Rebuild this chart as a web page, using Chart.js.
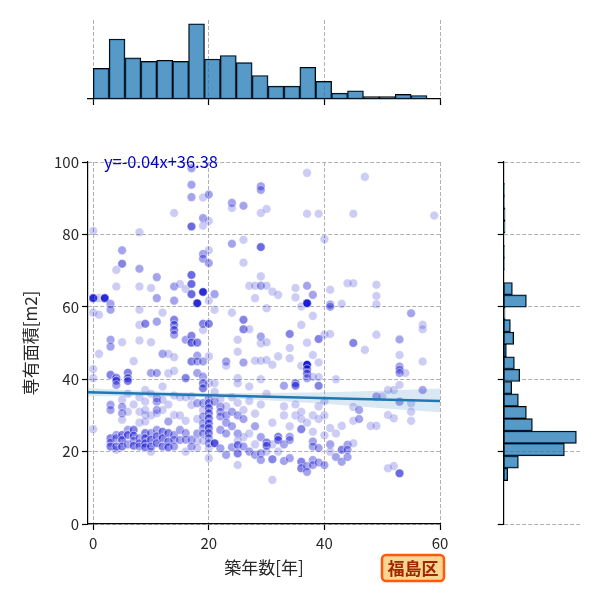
<!DOCTYPE html>
<html>
<head>
<meta charset="utf-8">
<script src="https://cdn.jsdelivr.net/npm/chart.js@4/dist/chart.umd.min.js"></script>
<style>
  html, body { margin: 0; padding: 0; background: #fff; }
  #wrap { position: relative; width: 600px; height: 600px; }
  #wrap canvas { position: absolute; left: 0; top: 0; }
</style>
</head>
<body>
<div id="wrap">
  <canvas id="main" width="600" height="600"></canvas>
  <canvas id="top" width="600" height="600"></canvas>
  <canvas id="side" width="600" height="600"></canvas>
</div>
<script>
// --- data ---
// one entry per marker position, listings = how many rooms sit on that spot
const ages = [
  0, 0, 0, 0, 0, 0,
  1, 1, 1,
  2,
  3, 3, 3, 3, 3, 3, 3, 3, 3, 3,
  4, 4, 4, 4, 4, 4, 4, 4, 4,
  5, 5, 5, 5, 5, 5, 5, 5, 5, 5,
  6, 6, 6, 6, 6, 6, 6, 6,
  7, 7, 7, 7, 7, 7,
  8, 8, 8, 8, 8, 8, 8, 8, 8, 8, 8, 8,
  9, 9, 9, 9, 9, 9, 9, 9, 9, 9,
  10, 10, 10, 10, 10, 10, 10, 10, 10,
  11, 11, 11, 11, 11, 11, 11, 11, 11, 11, 11,
  12, 12, 12, 12, 12, 12, 12, 12,
  13, 13, 13, 13, 13, 13, 13,
  14, 14, 14, 14, 14, 14, 14, 14, 14, 14, 14, 14, 14, 14,
  15, 15, 15, 15, 15,
  16, 16, 16, 16, 16, 16, 16, 16,
  17, 17, 17, 17, 17, 17, 17, 17, 17, 17, 17, 17, 17, 17,
  18, 18, 18, 18, 18, 18, 18, 18, 18, 18,
  19, 19, 19, 19, 19, 19, 19, 19, 19, 19, 19, 19, 19, 19, 19, 19, 19, 19, 19,
  20, 20, 20, 20, 20, 20, 20, 20, 20, 20, 20, 20, 20, 20, 20, 20, 20, 20, 20, 20,
  21, 21, 21, 21, 21, 21,
  22, 22, 22, 22, 22, 22,
  23, 23, 23, 23, 23, 23, 23,
  24, 24, 24, 24, 24, 24, 24, 24,
  25, 25, 25, 25, 25, 25, 25, 25, 25, 25, 25,
  26, 26, 26, 26, 26, 26, 26, 26, 26, 26,
  27, 27, 27, 27, 27, 27,
  28, 28, 28, 28, 28, 28, 28,
  29, 29, 29, 29, 29, 29, 29, 29, 29, 29, 29, 29, 29, 29,
  30, 30, 30, 30, 30, 30, 30, 30, 30,
  31, 31, 31, 31, 31, 31,
  32, 32, 32, 32, 32,
  33, 33, 33, 33, 33,
  34, 34, 34, 34, 34, 34, 34,
  35, 35, 35, 35, 35, 35,
  36, 36, 36, 36, 36, 36, 36, 36,
  37, 37, 37, 37, 37, 37, 37, 37, 37, 37, 37, 37,
  38, 38, 38, 38, 38, 38, 38, 38, 38, 38,
  39, 39, 39, 39, 39, 39, 39, 39, 39,
  40, 40, 40, 40, 40, 40,
  41, 41, 41, 41, 41, 41, 41,
  42, 42, 42,
  43, 43, 43, 43,
  44, 44, 44, 44,
  45, 45, 45, 45, 45, 45,
  46, 46,
  47, 47,
  48,
  49, 49, 49, 49, 49, 49,
  50,
  51, 51, 51,
  52, 52, 52,
  53, 53, 53, 53, 53, 53, 53, 53, 53,
  54,
  55, 55, 55, 55,
  57, 57, 57, 57,
  59
];
const areas = [
  81.0, 62.4, 58.4, 42.8, 40.3, 26.2,
  62.4, 57.8, 47.0,
  62.4,
  60.8, 59.2, 50.9, 49.0, 41.2, 32.9, 31.5, 23.7, 22.5, 21.4,
  70.2, 65.6, 40.4, 39.6, 38.4, 24.6, 23.7, 21.4, 20.5,
  75.6, 71.9, 50.2, 34.3, 32.4, 30.6, 28.8, 24.6, 23.2, 21.4,
  41.8, 40.3, 39.5, 36.0, 31.0, 26.0, 24.6, 22.0,
  45.0, 33.0, 26.0, 24.4, 23.0, 21.6,
  80.6, 70.5, 65.6, 59.2, 55.0, 50.7, 35.0, 31.0, 28.0, 23.7, 22.3, 21.4,
  55.3, 37.0, 33.8, 31.5, 30.1, 28.3, 25.1, 23.7, 22.3, 21.2,
  65.2, 50.2, 41.7, 36.0, 30.0, 25.1, 23.3, 21.4, 20.0,
  68.2, 62.4, 55.9, 41.7, 34.8, 33.8, 31.5, 30.6, 26.0, 24.2, 22.3,
  58.4, 47.0, 38.0, 34.3, 31.5, 25.5, 23.7, 21.4,
  47.0, 41.6, 33.0, 28.3, 25.1, 22.8, 21.2,
  85.9, 65.6, 61.7, 56.4, 55.0, 53.6, 52.3, 46.1, 42.3, 35.5, 30.1, 24.6, 23.3, 21.4,
  66.3, 35.0, 30.0, 26.0, 23.2,
  64.9, 50.9, 40.3, 35.0, 28.5, 25.1, 23.3, 20.0,
  98.3, 93.7, 90.3, 82.2, 68.8, 66.3, 63.5, 52.0, 50.1, 44.9, 35.2, 32.9, 23.3, 21.4,
  61.0, 50.1, 46.5, 44.9, 41.7, 33.4, 29.0, 25.0, 23.0, 21.0,
  90.2, 84.5, 82.4, 74.6, 73.3, 64.1, 55.3, 53.6, 44.9, 40.7, 38.9, 37.5, 33.4, 31.5, 29.7, 27.8, 26.5, 25.0, 23.0,
  91.0, 83.7, 75.6, 72.1, 61.7, 55.3, 46.3, 38.9, 34.8, 33.4, 32.0, 30.6, 29.2, 27.8, 26.5, 25.1, 23.7, 22.3, 20.9, 18.2,
  63.5, 59.2, 38.9, 36.5, 33.8, 22.3,
  34.5, 32.4, 31.0, 29.7, 26.0, 20.9,
  44.9, 43.7, 32.5, 30.0, 28.0, 25.0, 19.1,
  88.7, 87.3, 77.4, 58.4, 35.0, 31.0, 27.0, 21.2,
  50.9, 47.6, 40.3, 38.9, 33.5, 30.0, 25.0, 23.0, 21.8, 19.5, 16.3,
  87.9, 78.5, 72.2, 56.4, 53.8, 44.6, 31.5, 29.0, 24.0, 21.4,
  65.8, 53.8, 38.0, 34.0, 25.0, 20.0,
  65.8, 62.4, 45.1, 30.5, 27.0, 22.0, 19.1,
  93.3, 92.3, 85.9, 76.5, 68.4, 65.8, 51.8, 49.9, 45.1, 40.0, 33.0, 24.0, 19.5, 17.7,
  87.0, 65.8, 59.6, 50.2, 45.3, 36.0, 22.5, 21.6, 20.0,
  64.2, 44.0, 28.0, 22.0, 17.9, 12.2,
  63.3, 46.3, 24.1, 23.2, 20.0,
  38.2, 32.5, 30.0, 22.0, 17.4,
  52.5, 48.6, 45.8, 27.0, 24.1, 23.2, 18.2,
  65.2, 62.6, 38.9, 38.2, 33.0, 30.0,
  60.1, 55.0, 43.7, 31.0, 29.0, 26.2, 17.2, 15.4,
  97.0, 85.7, 65.8, 61.0, 50.1, 44.0, 42.8, 41.6, 40.3, 28.0, 16.0, 14.4,
  63.3, 57.5, 46.7, 40.6, 30.0, 25.5, 22.8, 21.4, 17.7, 16.3,
  85.7, 51.1, 44.6, 40.6, 38.2, 32.5, 29.0, 21.0, 17.0,
  78.7, 52.3, 34.0, 30.0, 24.5, 16.3,
  64.7, 60.6, 60.0, 52.5, 26.5, 22.0, 20.0,
  40.0, 25.0, 18.5,
  60.8, 27.1, 20.5, 17.2,
  66.5, 21.9, 20.5, 18.5,
  85.7, 66.5, 50.0, 32.3, 28.5, 22.3,
  31.5, 29.0,
  95.9, 48.1,
  27.1,
  66.1, 63.0, 60.7, 52.3, 35.2, 27.1,
  35.2,
  37.0, 30.1, 15.4,
  37.0, 29.2, 16.0,
  51.1, 50.9, 46.7, 43.5, 42.6, 41.7, 38.4, 33.8, 14.0,
  41.7,
  58.2, 33.4, 31.0, 28.5,
  55.0, 53.8, 44.9, 37.0,
  85.2
];
const listings = [
  1, 8, 1, 1, 1, 1,
  1, 1, 1,
  8,
  2, 2, 2, 2, 3, 2, 2, 3, 2, 3,
  1, 1, 3, 3, 2, 2, 2, 3, 1,
  2, 3, 1, 1, 2, 2, 1, 3, 3, 3,
  3, 3, 3, 1, 1, 2, 3, 2,
  1, 1, 3, 3, 2, 3,
  1, 2, 1, 1, 1, 1, 1, 1, 1, 2, 2, 2,
  3, 1, 1, 1, 1, 1, 3, 3, 3, 3,
  1, 1, 2, 1, 1, 2, 3, 3, 1,
  2, 2, 2, 2, 2, 2, 2, 1, 2, 3, 3,
  1, 2, 1, 1, 1, 3, 3, 3,
  1, 1, 1, 2, 3, 3, 3,
  1, 2, 2, 3, 3, 3, 2, 1, 1, 1, 1, 2, 2, 2,
  1, 1, 1, 2, 2,
  1, 2, 3, 1, 1, 2, 2, 1,
  2, 2, 2, 4, 4, 4, 4, 3, 4, 3, 1, 1, 2, 2,
  8, 3, 2, 2, 2, 2, 1, 2, 1, 1,
  1, 2, 1, 2, 2, 8, 3, 1, 2, 2, 3, 3, 2, 1, 2, 2, 2, 2, 1,
  2, 1, 1, 2, 1, 3, 1, 1, 2, 3, 3, 3, 3, 3, 3, 3, 2, 2, 1, 1,
  2, 1, 1, 1, 2, 5,
  1, 2, 2, 2, 2, 2,
  2, 1, 1, 2, 2, 2, 2,
  2, 1, 2, 1, 1, 2, 2, 2,
  1, 1, 1, 1, 1, 2, 2, 1, 3, 3, 1,
  2, 1, 1, 3, 3, 2, 1, 2, 1, 2,
  1, 1, 1, 1, 1, 2,
  1, 1, 1, 1, 2, 1, 2,
  2, 2, 1, 4, 1, 2, 2, 1, 1, 1, 1, 2, 2, 2,
  1, 1, 1, 1, 1, 1, 3, 3, 1,
  1, 1, 1, 1, 3, 1,
  1, 1, 3, 3, 1,
  2, 1, 1, 2, 2,
  3, 1, 1, 1, 2, 2, 2,
  1, 1, 3, 3, 1, 1,
  1, 1, 1, 1, 1, 3, 3, 3,
  1, 1, 2, 10, 1, 10, 3, 3, 2, 1, 2, 2,
  2, 1, 1, 1, 1, 1, 2, 2, 2, 2,
  1, 3, 1, 1, 3, 1, 1, 2, 2,
  1, 1, 1, 1, 1, 2,
  1, 2, 2, 1, 1, 2, 1,
  1, 1, 2,
  1, 1, 3, 2,
  1, 2, 2, 2,
  1, 1, 3, 1, 1, 1,
  2, 2,
  1, 1,
  1,
  1, 1, 1, 1, 2, 1,
  1,
  1, 1, 1,
  1, 1, 1,
  1, 1, 1, 2, 2, 2, 1, 2, 4,
  1,
  2, 1, 1, 1,
  1, 1, 1, 2,
  1
];

// regression line and its confidence band
const fitLabel = 'y=-0.04x+36.38';
const fitX = [-0.9, 60];
const fitY = [36.42, 33.98];
const bandX = [-0.9, 10, 20, 30, 40, 50, 60];
const bandLow = [35.3, 35.3, 35.0, 34.2, 33.2, 32.0, 30.9];
const bandHigh = [37.5, 36.7, 36.2, 36.2, 36.4, 36.8, 37.4];

// marginal histograms
const ageBinStart = 0;
const ageBinWidth = 2.75;
const ageCounts = [26, 51, 35, 32, 33, 32, 64, 34, 37, 31, 20, 11, 11, 27, 15, 5, 7, 2, 2, 4, 3];
const areaBinStart = 12.0;
const areaBinWidth = 3.42;
const areaCounts = [6, 22, 91, 109, 43, 34, 22, 12, 24, 16, 4, 15, 10, 2, 34, 13, 0, 1, 1, 0, 2, 2, 1, 1, 0];

const xTicks = [0, 20, 40, 60];
const yTicks = [0, 20, 40, 60, 80, 100];
const xTitle = '築年数[年]';
const yTitle = '専有面積[m2]';
const wardName = '福島区';

// --- styles ---
const FONT = '"Noto Sans CJK JP", "Noto Sans", sans-serif';
Chart.defaults.font.family = FONT;
Chart.defaults.color = '#262626';
const gridColor = '#b0b0b0';
const gridDash = [4, 2];
const histFill = 'rgba(31,119,180,0.75)';

// vaste tick posities
function fixedTicks(values) {
  return scale => { scale.ticks = values.map(v => ({ value: v })); };
}

// elke listing wordt een eigen punt, zodat overlap donkerder wordt
const points = [];
ages.forEach((age, i) => {
  for (let k = 0; k < listings[i]; k++) points.push({ x: age, y: areas[i] });
});

// tekst van de regressie en het label van de wijk
const annotations = {
  id: 'annotations',
  afterDatasetsDraw(chart) {
    const { ctx, scales: { x, y } } = chart;
    ctx.save();
    ctx.font = '16.5px ' + FONT;
    ctx.fillStyle = '#0000cd';
    ctx.textBaseline = 'middle';
    ctx.fillText(fitLabel, x.getPixelForValue(1.85), y.getPixelForValue(100.2));
    ctx.restore();
  },
  afterDraw(chart) {
    const { ctx, chartArea } = chart;
    ctx.save();
    ctx.font = 'bold 17px ' + FONT;
    const w = ctx.measureText(wardName).width + 11;
    const h = 26;
    const left = chartArea.right + 4 - w;
    const top = chartArea.bottom + 31;
    ctx.beginPath();
    ctx.roundRect(left, top, w, h, 4);
    ctx.fillStyle = '#ffd592';
    ctx.fill();
    ctx.lineWidth = 2.5;
    ctx.strokeStyle = '#ff5a0a';
    ctx.stroke();
    ctx.fillStyle = '#a02800';
    ctx.textAlign = 'center';
    ctx.textBaseline = 'middle';
    ctx.fillText(wardName, left + w / 2, top + h / 2 + 1);
    ctx.restore();
  }
};

const noPlugins = { legend: { display: false }, tooltip: { enabled: false } };

// hoofd grafiek: scatter met regressielijn
new Chart(document.getElementById('main'), {
  type: 'scatter',
  data: {
    datasets: [
      {
        data: points,
        backgroundColor: 'rgba(0,0,205,0.2)',
        borderColor: 'rgba(255,255,255,0.25)',
        borderWidth: 1,
        pointRadius: 4.3,
        order: 3
      },
      {
        type: 'line',
        data: bandX.map((x, i) => ({ x: x, y: bandLow[i] })),
        borderColor: 'rgba(0,0,0,0)',
        borderWidth: 0,
        pointRadius: 0,
        fill: false,
        order: 2
      },
      {
        type: 'line',
        data: bandX.map((x, i) => ({ x: x, y: bandHigh[i] })),
        borderColor: 'rgba(0,0,0,0)',
        borderWidth: 0,
        pointRadius: 0,
        fill: '-1',
        backgroundColor: 'rgba(31,119,180,0.17)',
        order: 2
      },
      {
        type: 'line',
        data: fitX.map((x, i) => ({ x: x, y: fitY[i] })),
        borderColor: '#1f77b4',
        borderWidth: 2.5,
        pointRadius: 0,
        fill: false,
        order: 1
      }
    ]
  },
  options: {
    responsive: false,
    animation: false,
    layout: { padding: { left: 0, top: 162, right: 160, bottom: 0 } },
    plugins: noPlugins,
    scales: {
      x: {
        type: 'linear', min: -0.9, max: 60, z: 1,
        afterBuildTicks: fixedTicks(xTicks),
        afterFit: s => { s.height = 76; },
        grid: { color: gridColor, tickColor: '#000', tickLength: 6, tickWidth: 1.2 },
        border: { color: '#000', width: 1.2, dash: gridDash },
        ticks: { font: { size: 15 }, padding: 4, maxRotation: 0 },
        title: { display: true, text: xTitle, font: { size: 17 }, padding: { top: 0, bottom: 22 } }
      },
      y: {
        type: 'linear', min: 0, max: 100, z: 1,
        afterBuildTicks: fixedTicks(yTicks),
        afterFit: s => { s.width = 88; },
        grid: { color: gridColor, tickColor: '#000', tickLength: 6, tickWidth: 1.2 },
        border: { color: '#000', width: 1.2, dash: gridDash },
        ticks: { font: { size: 15 }, padding: 3 },
        title: { display: true, text: yTitle, font: { size: 17 }, padding: { top: 20, bottom: 0 } }
      }
    }
  },
  plugins: [annotations]
});

// histogram bovenaan (築年数)
new Chart(document.getElementById('top'), {
  type: 'bar',
  data: {
    datasets: [{
      data: ageCounts.map((c, i) => ({ x: ageBinStart + ageBinWidth * (i + 0.5), y: c })),
      backgroundColor: histFill,
      borderColor: '#000',
      borderWidth: 1,
      borderSkipped: false,
      barPercentage: 1,
      categoryPercentage: 1
    }]
  },
  options: {
    responsive: false,
    animation: false,
    layout: { padding: { left: 88, top: 20, right: 160, bottom: 491 } },
    plugins: noPlugins,
    scales: {
      x: {
        type: 'linear', min: -0.9, max: 60, offset: false, z: 1,
        afterBuildTicks: fixedTicks(xTicks),
        afterFit: s => { s.height = 10; },
        grid: { offset: false, color: gridColor, tickColor: '#000', tickLength: 6, tickWidth: 1.2 },
        border: { color: '#000', width: 1.2, dash: gridDash },
        ticks: { display: false }
      },
      y: { display: false, min: 0, max: Math.max(...ageCounts) * 1.05 }
    }
  }
});

// histogram rechts (専有面積)
new Chart(document.getElementById('side'), {
  type: 'bar',
  data: {
    datasets: [{
      data: areaCounts.map((c, i) => ({ y: areaBinStart + areaBinWidth * (i + 0.5), x: c })),
      backgroundColor: histFill,
      borderColor: '#000',
      borderWidth: 1,
      borderSkipped: false,
      barPercentage: 1,
      categoryPercentage: 1
    }]
  },
  options: {
    indexAxis: 'y',
    responsive: false,
    animation: false,
    layout: { padding: { left: 493.7, top: 162, right: 20, bottom: 76 } },
    plugins: noPlugins,
    scales: {
      y: {
        type: 'linear', min: 0, max: 100, offset: false, z: 1,
        afterBuildTicks: fixedTicks(yTicks),
        afterFit: s => { s.width = 10; },
        grid: { offset: false, color: gridColor, tickColor: '#000', tickLength: 6, tickWidth: 1.2 },
        border: { color: '#000', width: 1.2, dash: gridDash },
        ticks: { display: false }
      },
      x: { display: false, min: 0, max: Math.max(...areaCounts) * 1.05 }
    }
  }
});
</script>
</body>
</html>
